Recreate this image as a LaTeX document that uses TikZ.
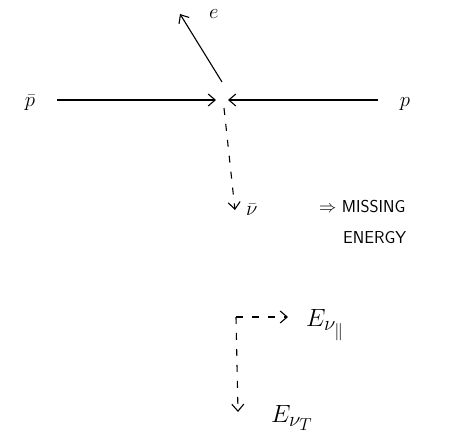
\documentclass[tikz,border=0pt]{standalone}
\usepackage{amsmath}
\usepackage{amssymb}
\usetikzlibrary{arrows.meta,positioning,calc}
\tikzstyle{lbl} = [inner sep=1pt, font=\huge]
\tikzstyle{big} = [inner sep=1pt, font=\Huge]
\tikzstyle{caps} = [inner sep=1pt, font=\sffamily\LARGE]
\tikzstyle{point} = [coordinate]
\tikzstyle{track} = [->, line width=1.1pt]
\tikzstyle{missing} = [->, line width=1.1pt, dash pattern=on 7pt off 9pt]
\begin{document}
\begin{tikzpicture}[auto, x=1pt, y=-1pt, node distance=20pt,
    >={Straight Barb[length=7pt, width=12pt, line width=1.1pt]}]
    \useasboundingbox (0,0) rectangle (461,438);
    % Beams
    \node [point] (vertex) at (222,100) {};
    \node [lbl] (pbar) at (30,103) {$\bar{p}$};
    \node [lbl] (p) at (405,104) {$p$};
    \node [point] (pbar_in) at (57,100) {};
    \node [point] (p_in) at (378,100) {};
    \node [point] (e_tip) at (180,14) {};
    \node [lbl, right=28pt of e_tip] (e) {$e$};
    \node [point] (nu_tip) at (235,210) {};
    \node [lbl, right=10pt of nu_tip] (nu) {$\bar{\nu}$};
    \node [caps, anchor=west] (missing) at (318,207) {$\Rightarrow$ MISSING};
    \node [caps, anchor=west] (energy) at (342,238) {ENERGY};

    % Neutrino components
    \node [point] (corner) at (236,317) {};
    \node [point] (par_tip) at (288,317) {};
    \node [big, anchor=west] (e_par) at (305,325) {$E_{\nu_{\parallel}}$};
    \node [point] (t_tip) at (238,412) {};
    \node [big, anchor=west] (e_t) at (270,418) {$E_{\nu_T}$};

    % Connections
    \draw [track] (pbar_in) -- ($(vertex)+(-6,0)$);
    \draw [track] (p_in) -- ($(vertex)+(6,0)$);
    \draw [track] ($(vertex)+(0,-18)$) -- (e_tip);
    \draw [missing] ($(vertex)+(2,8)$) -- (nu_tip);
    \draw [missing] (corner) -- (par_tip);
    \draw [missing] (corner) -- (t_tip);
\end{tikzpicture}
\end{document}
